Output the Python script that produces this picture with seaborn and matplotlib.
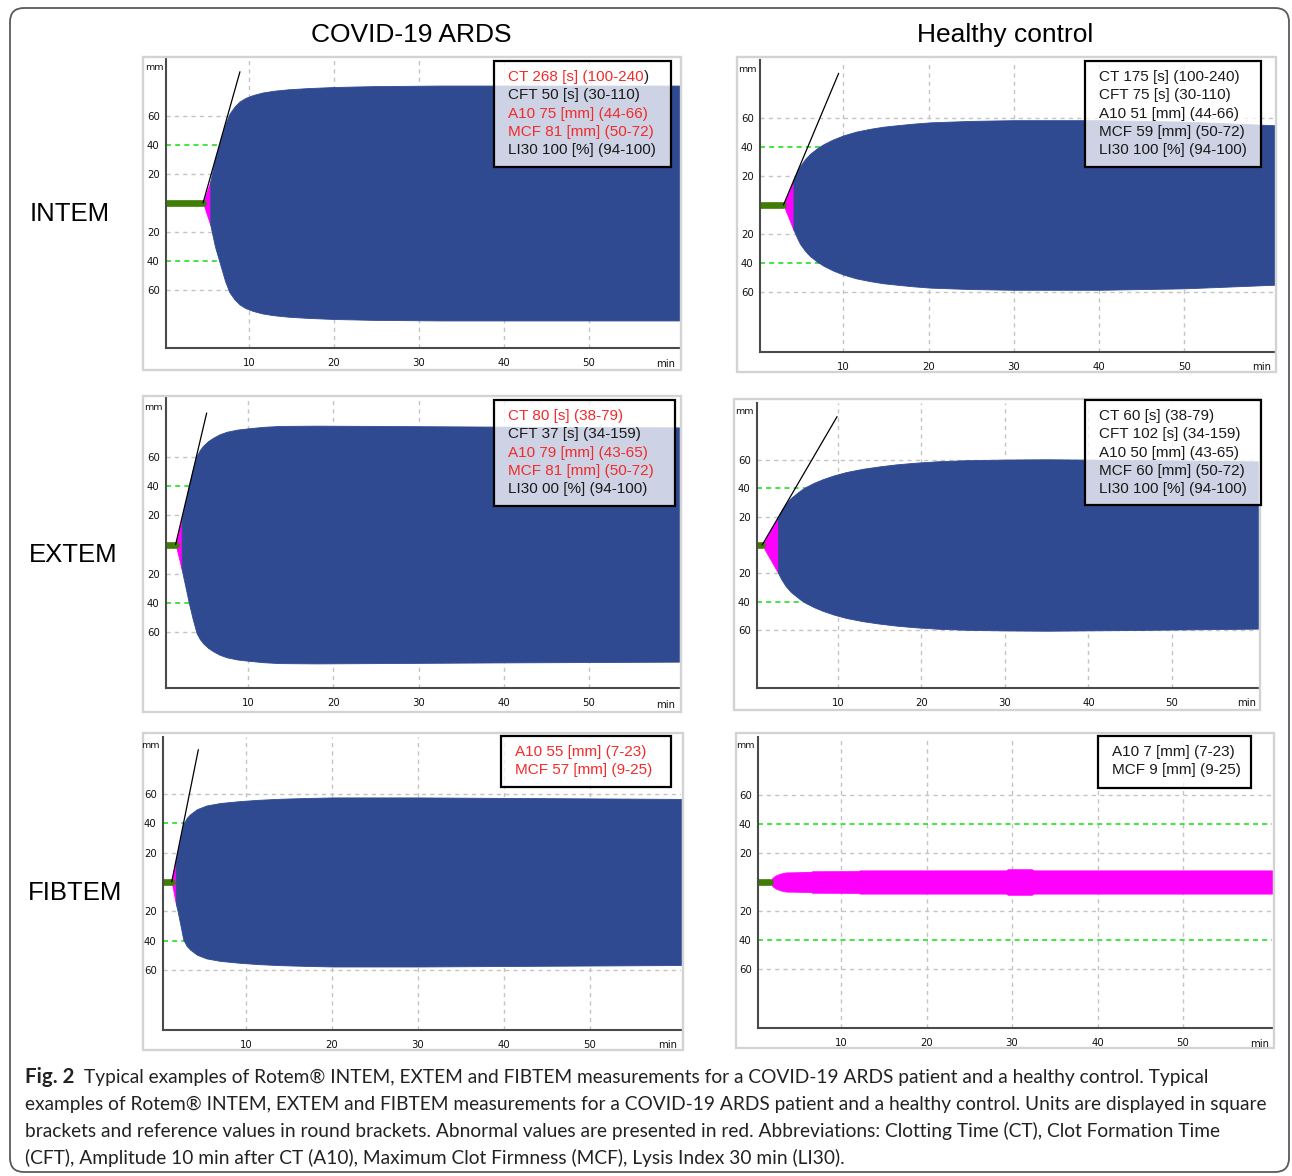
import numpy as np
import matplotlib
matplotlib.use("Agg")
import matplotlib.pyplot as plt
from matplotlib.patches import Rectangle, FancyBboxPatch
import seaborn as sns

# ---------------- data ----------------
col_titles = ["COVID-19 ARDS", "Healthy control"]
row_titles = ["INTEM", "EXTEM", "FIBTEM"]
x_ticks = [10, 20, 30, 40, 50]
y_ticks = [-60, -40, -20, 20, 40, 60]
y_tick_labels = ["60", "40", "20", "20", "40", "60"]

# INTEM, COVID-19 ARDS
intem_covid_t = [4.6, 5.45, 6.0, 6.5, 7.2, 7.7, 8.3, 8.9, 9.6, 10.5, 11.6, 12.9, 14.6, 16.8, 20.0, 24.6, 32.5, 45, 60.8]
intem_covid_amp = [0, 15, 30, 40, 54, 61.5, 66.5, 70, 72.5, 74.5, 76.2, 77.4, 78.4, 79.2, 80.0, 80.6, 81, 81, 81]
intem_covid_ct = 4.6
intem_covid_split = 5.45
intem_covid_tan_t = [4.6, 8.94]
intem_covid_tan_amp = [0, 90.5]
intem_covid_box = [("CT 268 [s] (100-240", "red", ")"), ("CFT 50 [s] (30-110)", "black", ""),
                   ("A10 75 [mm] (44-66)", "red", ""), ("MCF 81 [mm] (50-72)", "red", ""),
                   ("LI30 100 [%] (94-100)", "black", "")]

# INTEM, healthy
intem_healthy_t = [2.98, 4.15, 4.6, 4.94, 5.5, 6.1, 6.9, 7.7, 8.8, 10.0, 11.5, 13.2, 14.7, 16.3, 18.2, 20.2, 25, 30, 40, 50, 60.6]
intem_healthy_amp = [0, 17, 23, 27, 31.5, 35.3, 39, 42, 45.2, 48, 50.6, 52.6, 54, 55, 56.1, 57, 58, 58.5, 58.5, 57.5, 55]
intem_healthy_ct = 2.98
intem_healthy_split = 4.15
intem_healthy_tan_t = [2.98, 9.45]
intem_healthy_tan_amp = [0, 90.8]
intem_healthy_box = [("CT 175 [s] (100-240)", "black", ""), ("CFT 75 [s] (30-110)", "black", ""),
                     ("A10 51 [mm] (44-66)", "black", ""), ("MCF 59 [mm] (50-72)", "black", ""),
                     ("LI30 100 [%] (94-100)", "black", "")]

# EXTEM, COVID-19 ARDS
extem_covid_t = [1.45, 2.16, 2.6, 3.0, 3.45, 3.92, 4.3, 4.7, 5.3, 5.9, 6.6, 7.45, 8.7, 10.2, 11.8, 13.7, 18, 25, 40, 60.6]
extem_covid_amp = [0, 17, 29, 40, 51, 61, 65, 68, 71.2, 73.5, 75.7, 77.5, 79, 80, 80.9, 81.5, 81.7, 81.5, 81, 80.5]
extem_covid_ct = 1.45
extem_covid_split = 2.16
extem_covid_tan_t = [1.45, 5.1]
extem_covid_tan_amp = [0, 90.4]
extem_covid_box = [("CT 80 [s] (38-79)", "red", ""), ("CFT 37 [s] (34-159)", "black", ""),
                   ("A10 79 [mm] (43-65)", "red", ""), ("MCF 81 [mm] (50-72)", "red", ""),
                   ("LI30 00 [%] (94-100)", "black", "")]

# EXTEM, healthy
extem_healthy_t = [0.93, 2.82, 3.25, 3.75, 4.3, 4.96, 5.5, 6.17, 7.1, 8.2, 9.5, 11, 13, 15, 17, 19.1, 22, 25.1, 30, 35, 45, 60.3]
extem_healthy_amp = [0, 19.5, 24.5, 29, 32.8, 36, 38.5, 41, 43.8, 46.5, 49.1, 51.5, 53.8, 55.5, 56.9, 58, 59.1, 59.8, 60.3, 60.5, 60, 59]
extem_healthy_ct = 0.93
extem_healthy_split = 2.82
extem_healthy_tan_t = [0.93, 9.9]
extem_healthy_tan_amp = [0, 90.6]
extem_healthy_box = [("CT 60 [s] (38-79)", "black", ""), ("CFT 102 [s] (34-159)", "black", ""),
                     ("A10 50 [mm] (43-65)", "black", ""), ("MCF 60 [mm] (50-72)", "black", ""),
                     ("LI30 100 [%] (94-100)", "black", "")]

# FIBTEM, COVID-19 ARDS
fibtem_covid_t = [1.36, 1.85, 2.05, 2.4, 2.7, 3.1, 3.5, 4.3, 5.4, 7, 9.3, 11.5, 14, 17, 20.1, 30, 45, 60.6]
fibtem_covid_amp = [0, 15, 20, 30, 39, 43.5, 46, 49.5, 52, 53.7, 55, 55.9, 56.6, 57.1, 57.5, 57.5, 57, 56.5]
fibtem_covid_ct = 1.36
fibtem_covid_split = 1.85
fibtem_covid_tan_t = [1.36, 4.46]
fibtem_covid_tan_amp = [0, 90]
fibtem_covid_box = [("A10 55 [mm] (7-23)", "red", ""), ("MCF 57 [mm] (9-25)", "red", "")]

# FIBTEM, healthy
fibtem_healthy_t = [1.65, 2.0, 2.4, 3.0, 3.6, 6.5, 6.6, 12.0, 12.2, 29.3, 29.5, 32.3, 32.5, 60.4]
fibtem_healthy_amp = [0, 3.0, 4.6, 5.9, 6.6, 6.9, 7.4, 7.5, 8.0, 8.0, 8.8, 8.8, 8.0, 8.0]
fibtem_healthy_ct = 1.65
fibtem_healthy_split = 60.4
fibtem_healthy_tan_t = []
fibtem_healthy_tan_amp = []
fibtem_healthy_box = [("A10 7 [mm] (7-23)", "black", ""), ("MCF 9 [mm] (9-25)", "black", "")]

caption_bold = "Fig. 2"
caption_lines = [
    "Typical examples of Rotem® INTEM, EXTEM and FIBTEM measurements for a COVID-19 ARDS patient and a healthy control. Typical",
    "examples of Rotem® INTEM, EXTEM and FIBTEM measurements for a COVID-19 ARDS patient and a healthy control. Units are displayed in square",
    "brackets and reference values in round brackets. Abnormal values are presented in red. Abbreviations: Clotting Time (CT), Clot Formation Time",
    "(CFT), Amplitude 10 min after CT (A10), Maximum Clot Firmness (MCF), Lysis Index 30 min (LI30).",
]

# ---------------- style / layout ----------------
W, H = 1292, 1176
BLUE = "#304a92"
MAGENTA = "#ff00ff"
DKGREEN = "#3f7d05"
GREEN_DASH = "#22e022"
GRID = "#c4c4c4"
RED = "#f42a2a"
BLACK = "#1a1a1a"

sns.set_theme(style="white")
plt.rcParams["font.family"] = ["Liberation Sans", "DejaVu Sans"]

fig = plt.figure(figsize=(W / 100, H / 100), dpi=100)
fig.patch.set_facecolor("white")

panels = [
    dict(t=intem_covid_t, amp=intem_covid_amp, ct=intem_covid_ct, split=intem_covid_split,
         tt=intem_covid_tan_t, ta=intem_covid_tan_amp, box=intem_covid_box,
         px=(166, 58, 679, 348), xlim=(0.24, 60.6), ylim=(-100, 100),
         frame=(143, 57, 681, 370), boxpx=(494, 61, 671, 167), mm=(154, 68), minpx=(666, 364)),
    dict(t=intem_healthy_t, amp=intem_healthy_amp, ct=intem_healthy_ct, split=intem_healthy_split,
         tt=intem_healthy_tan_t, ta=intem_healthy_tan_amp, box=intem_healthy_box,
         px=(760, 60, 1274, 352), xlim=(0.23, 60.5), ylim=(-101.4, 100),
         frame=(737, 57, 1276, 372), boxpx=(1085, 61, 1261, 167), mm=(747, 70), minpx=(1262, 367)),
    dict(t=extem_covid_t, amp=extem_covid_amp, ct=extem_covid_ct, split=extem_covid_split,
         tt=extem_covid_tan_t, ta=extem_covid_tan_amp, box=extem_covid_box,
         px=(166, 398, 679, 688), xlim=(0.32, 60.6), ylim=(-98.6, 100.7),
         frame=(143, 396, 681, 712), boxpx=(494, 400, 675, 506), mm=(153, 408), minpx=(666, 705)),
    dict(t=extem_healthy_t, amp=extem_healthy_amp, ct=extem_healthy_ct, split=extem_healthy_split,
         tt=extem_healthy_tan_t, ta=extem_healthy_tan_amp, box=extem_healthy_box,
         px=(757, 403, 1258, 688), xlim=(0.31, 60.3), ylim=(-100.9, 100.2),
         frame=(734, 399, 1260, 710), boxpx=(1085, 400, 1261, 505), mm=(744, 412), minpx=(1247, 703)),
    dict(t=fibtem_covid_t, amp=fibtem_covid_amp, ct=fibtem_covid_ct, split=fibtem_covid_split,
         tt=fibtem_covid_tan_t, ta=fibtem_covid_tan_amp, box=fibtem_covid_box,
         px=(163, 737, 681, 1030), xlim=(0.35, 60.6), ylim=(-100.7, 98.6),
         frame=(143, 733, 683, 1050), boxpx=(501, 736, 671, 787), mm=(150, 745), minpx=(668, 1045)),
    dict(t=fibtem_healthy_t, amp=fibtem_healthy_amp, ct=fibtem_healthy_ct, split=fibtem_healthy_split,
         tt=fibtem_healthy_tan_t, ta=fibtem_healthy_tan_amp, box=fibtem_healthy_box,
         px=(758, 737, 1272, 1028), xlim=(0.29, 60.4), ylim=(-100.7, 100),
         frame=(736, 733, 1274, 1048), boxpx=(1098, 736, 1251, 788), mm=(745, 746), minpx=(1260, 1044)),
]

# overlay in pixel coordinates
ov = fig.add_axes([0, 0, 1, 1])
ov.set_xlim(0, W)
ov.set_ylim(H, 0)
ov.axis("off")
ov.set_zorder(10)

TICKFONT = dict(family="DejaVu Sans", color="#111111")

for p in panels:
    l, t_, r, b = p["px"]
    ax = fig.add_axes([l / W, 1 - b / H, (r - l) / W, (b - t_) / H])
    ax.set_facecolor("white")
    ax.set_xlim(*p["xlim"])
    ax.set_ylim(*p["ylim"])
    for yv in [-60, -20, 20, 60]:
        ax.axhline(yv, color=GRID, lw=1.0, dashes=(3, 3), zorder=1)
    for xv in x_ticks:
        ax.axvline(xv, color=GRID, lw=1.0, dashes=(3, 3), zorder=1)
    for yv in [-40, 40]:
        ax.axhline(yv, color=GREEN_DASH, lw=1.2, dashes=(3, 2.5), zorder=1)

    tt = np.array(p["t"], dtype=float)
    aa = np.array(p["amp"], dtype=float)
    m = tt <= p["split"]
    ax.fill_between(tt[m], -aa[m], aa[m], color=MAGENTA, lw=0.6, zorder=2)
    bm = tt >= p["split"]
    if bm.sum() > 1:
        ax.fill_between(tt[bm], -aa[bm], aa[bm], color=BLUE, lw=0.6, zorder=2)

    sns.lineplot(x=[0, p["ct"]], y=[0, 0], ax=ax, color=DKGREEN, lw=4.8, zorder=3)
    if len(p["tt"]) > 1:
        sns.lineplot(x=p["tt"], y=p["ta"], ax=ax, color="black", lw=0.9, zorder=4)

    ax.set_xticks(x_ticks)
    ax.set_xticklabels([str(v) for v in x_ticks], **TICKFONT)
    ax.set_yticks(y_ticks)
    ax.set_yticklabels(y_tick_labels, **TICKFONT)
    ax.tick_params(axis="x", length=0, pad=7.2, labelsize=7.3)
    ax.tick_params(axis="y", length=0, pad=4.5, labelsize=7.3)
    ax.set_xlabel("")
    ax.set_ylabel("")
    for s in ["top", "right"]:
        ax.spines[s].set_visible(False)
    for s in ["left", "bottom"]:
        ax.spines[s].set_color("#4a4a4a")
        ax.spines[s].set_linewidth(1.5)
        ax.spines[s].set_zorder(5)

    # overlay elements
    fl, ft, fr, fb = p["frame"]
    ov.add_patch(Rectangle((fl, ft), fr - fl, fb - ft, fill=False, ec="#d3d3d3", lw=1.7, zorder=1))
    ov.text(p["mm"][0], p["mm"][1], "mm", ha="center", va="center", fontsize=6.8, **TICKFONT)
    ov.text(p["minpx"][0], p["minpx"][1], "min", ha="center", va="center", fontsize=7.3, **TICKFONT)
    bl, bt, br, bb = p["boxpx"]
    ov.add_patch(Rectangle((bl, bt), br - bl, bb - bt, fc=(1, 1, 1, 0.76), ec="black", lw=1.6, zorder=3))
    for i, (txt, col, suf) in enumerate(p["box"]):
        tobj = ov.text(bl + 14, bt + 16 + i * 18.3, txt, ha="left", va="center", fontsize=11,
                       color=RED if col == "red" else BLACK, zorder=4)
        if suf:
            ov.annotate(suf, xy=(1, 0), xycoords=tobj, ha="left", va="bottom", fontsize=11,
                        color=BLACK, zorder=4)

# titles
ov.text(411, 35, col_titles[0], ha="center", va="center", fontsize=19, color="black")
ov.text(1005, 35, col_titles[1], ha="center", va="center", fontsize=19, color="black")
for (x, y), lab in zip([(70, 214), (73, 555), (75, 893)], row_titles):
    ov.text(x, y, lab, ha="center", va="center", fontsize=18.5, color="black")

# outer rounded frame
ov.add_patch(FancyBboxPatch((10, 8), 1279, 1164, boxstyle="round,pad=0,rounding_size=14",
                            fill=False, ec="#5a5a5a", lw=1.3, zorder=0, clip_on=False))

# caption
cap_font = ["Lato", "DejaVu Sans"]
CAP = 13.8
ov.text(25, 1077, caption_bold, ha="left", va="center", fontsize=14.8, fontweight="bold",
        family=cap_font, color="#222222")
ov.text(84, 1077, caption_lines[0], ha="left", va="center", fontsize=CAP, family=cap_font, color="#222222")
for i, line in enumerate(caption_lines[1:]):
    ov.text(25, 1104 + 27 * i, line, ha="left", va="center", fontsize=CAP, family=cap_font, color="#222222")

fig.savefig("out.png", dpi=100, facecolor="white")
